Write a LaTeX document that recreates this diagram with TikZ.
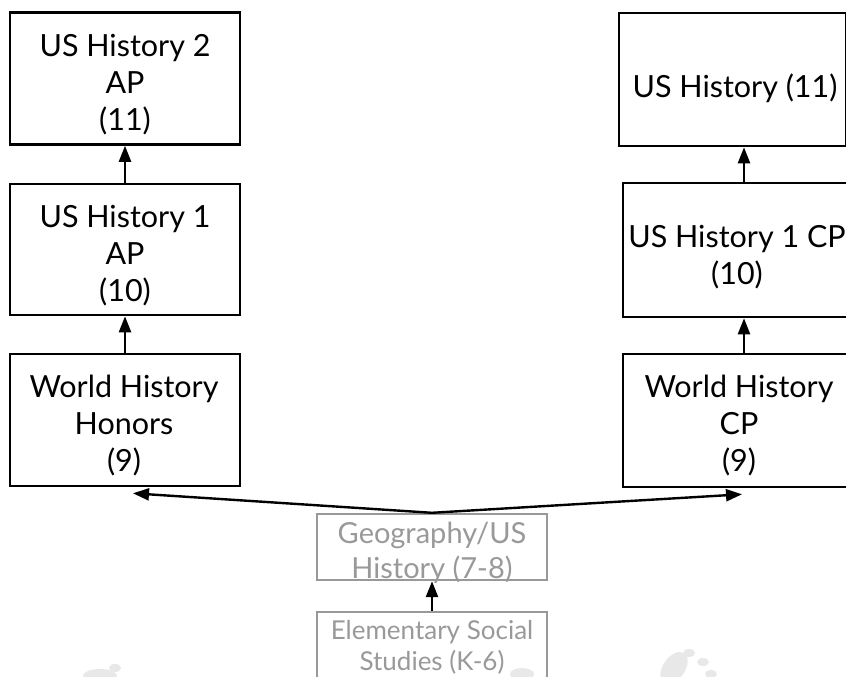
\documentclass[tikz,border=0pt]{standalone}
\usepackage{fontspec}
\setmainfont{Lato}
\usetikzlibrary{arrows.meta,calc}
\definecolor{pale}{HTML}{999999}
\definecolor{paw}{HTML}{E8E8E8}
\begin{document}
\begin{tikzpicture}[x=1pt,y=-1pt,
  box/.style={draw=black, line width=2.6pt, inner sep=0pt},
  txt/.style={align=center, inner sep=0pt, font=\fontsize{30.5}{37}\selectfont},
  graybox/.style={draw=pale, line width=2.4pt, inner sep=0pt},
  graytxt/.style={align=center, inner sep=0pt, text=pale},
  arr/.style={-{Triangle[length=16pt,width=12pt]}, line width=2.4pt},
  pawblob/.style={fill=paw, draw=none}]
\useasboundingbox (0,0) rectangle (846,677);
\clip (0,0) rectangle (846,677);
% faint paw prints
\fill[pawblob] (100,676) ellipse [x radius=17, y radius=7];
\fill[pawblob] (115,668) ellipse [x radius=6, y radius=4];
\fill[pawblob, rotate around={-35:(674,668)}] (674,668) ellipse [x radius=11, y radius=18];
\fill[pawblob] (689,653) ellipse [x radius=6, y radius=4];
\fill[pawblob] (703,662) ellipse [x radius=6, y radius=4];
\fill[pawblob] (711,674) ellipse [x radius=6, y radius=4];
\fill[pawblob] (522,674) ellipse [x radius=12, y radius=6];
% left column
\node[box, minimum width=230pt, minimum height=132pt] (L1) at (125,78.5) {};
\node[txt] (L1t) at ($(L1)+(0,6.5)$) {US History 2\\AP\\(11)};
\node[box, minimum width=230pt, minimum height=131pt] (L2) at (125,249.5) {};
\node[txt] (L2t) at ($(L2)+(0,6.5)$) {US History 1\\AP\\(10)};
\node[box, minimum width=230pt, minimum height=132pt] (L3) at (125,420) {};
\node[txt] (L3t) at ($(L3)+(-1,5)$) {World History\\Honors\\(9)};
% right column
\node[box, minimum width=227pt, minimum height=133pt] (R1) at (732.5,79.5) {};
\node[txt] (R1t) at ($(R1)+(2.5,8.5)$) {US History (11)};
\node[box, minimum width=242pt, minimum height=134pt] (R2) at (744,250) {};
\node[txt] (R2t) at ($(R2)+(-7,7.5)$) {US History 1 CP\\(10)};
\node[box, minimum width=242pt, minimum height=133pt] (R3) at (744,420.5) {};
\node[txt] (R3t) at ($(R3)+(-5,5)$) {World History\\CP\\(9)};
% bottom gray boxes
\node[graybox, minimum width=230pt, minimum height=66pt] (G) at (432,547) {};
\node[graytxt, font=\fontsize{29}{35}\selectfont] (Gt) at ($(G)+(0,5.5)$) {Geography/US\\History (7-8)};
\node[graybox, minimum width=230pt, minimum height=70pt] (E) at (432,647) {};
\node[graytxt, font=\fontsize{26}{31}\selectfont] (Et) at (432,647.5) {Elementary Social\\Studies (K-6)};
% connectors
\draw[arr] (L2.north) -- (L1.south);
\draw[arr] (L3.north) -- (L2.south);
\draw[arr] (R2.north) -- (R2.north |- R1.south);
\draw[arr] (R3.north) -- (R2.south);
\coordinate (tipL) at ($(L3.south)+(8,6)$);
\coordinate (tipR) at ($(R3.south)+(-2,6)$);
\draw[arr] (G.north) -- (tipL);
\draw[arr] (G.north) -- (tipR);
\draw[arr] (E.north) -- (G.south);
\end{tikzpicture}
\end{document}
